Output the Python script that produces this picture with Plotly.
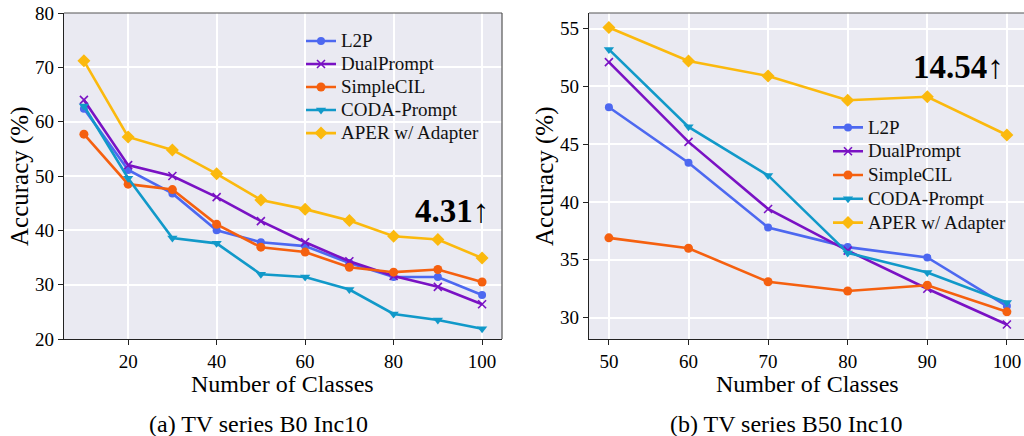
import plotly.graph_objects as go

# ---------------- data ----------------
x_a = [10, 20, 30, 40, 50, 60, 70, 80, 90, 100]
l2p_a = [62.4, 51.1, 46.8, 40.0, 37.8, 37.1, 34.0, 31.4, 31.4, 28.1]
dual_a = [64.0, 52.0, 50.0, 46.1, 41.7, 37.8, 34.3, 31.6, 29.6, 26.4]
simple_a = [57.7, 48.5, 47.5, 41.1, 36.9, 36.0, 33.2, 32.3, 32.8, 30.5]
coda_a = [62.9, 49.6, 38.6, 37.6, 31.9, 31.4, 29.1, 24.6, 23.5, 21.9]
aper_a = [71.2, 57.2, 54.8, 50.4, 45.6, 43.9, 41.8, 38.9, 38.3, 34.9]

x_b = [50, 60, 70, 80, 90, 100]
l2p_b = [48.2, 43.4, 37.8, 36.1, 35.2, 31.0]
dual_b = [52.1, 45.2, 39.4, 35.8, 32.5, 29.4]
simple_b = [36.9, 36.0, 33.1, 32.3, 32.8, 30.5]
coda_b = [53.2, 46.5, 42.3, 35.6, 33.9, 31.3]
aper_b = [55.1, 52.2, 50.9, 48.8, 49.1, 45.8]

names = ["L2P", "DualPrompt", "SimpleCIL", "CODA-Prompt", "APER w/ Adapter"]
colors = ["#4d68f0", "#7a12c4", "#f5600f", "#1199c9", "#fbb90d"]
symbols = ["circle", "x-thin", "circle", "triangle-down", "diamond"]
msizes = [8, 8, 9, 9, 10]

ticks_a_y = [20, 30, 40, 50, 60, 70, 80]
ticks_a_x = [20, 40, 60, 80, 100]
ticks_b_y = [30, 35, 40, 45, 50, 55]
ticks_b_x = [50, 60, 70, 80, 90, 100]

FONT = "Liberation Serif"

fig = go.Figure()

series_a = [l2p_a, dual_a, simple_a, coda_a, aper_a]
series_b = [l2p_b, dual_b, simple_b, coda_b, aper_b]


def marker(i):
    mk = dict(symbol=symbols[i], size=msizes[i], color=colors[i])
    if symbols[i] == "x-thin":
        mk["line"] = dict(width=1.6, color=colors[i])
    return mk


def legend_name(n):
    return '<span style="font-size:19px">' + n + '</span>'


for i in range(5):
    fig.add_trace(go.Scatter(x=x_a, y=series_a[i], mode="lines+markers", name=legend_name(names[i]),
                             line=dict(color=colors[i], width=2.6), marker=marker(i),
                             xaxis="x", yaxis="y", legend="legend"))
for i in range(5):
    fig.add_trace(go.Scatter(x=x_b, y=series_b[i], mode="lines+markers", name=legend_name(names[i]),
                             line=dict(color=colors[i], width=2.6), marker=marker(i),
                             xaxis="x2", yaxis="y2", legend="legend2"))

W, H = 1024, 436
dom_y = [1 - 339 / H, 1 - 13 / H]

axis_common = dict(showgrid=True, gridcolor="white", gridwidth=1.6, zeroline=False,
                   showline=True, linecolor="#222222", linewidth=1.3,
                   ticks="outside", ticklen=5, tickcolor="#222222", tickwidth=1.2,
                   tickfont=dict(family=FONT, size=19, color="black"), automargin=False)

legend_font_a = dict(family=FONT, size=15.4, color="#111111")
legend_font_b = dict(family=FONT, size=16.0, color="#111111")

fig.update_layout(
    width=W, height=H, margin=dict(l=0, r=0, t=0, b=0, autoexpand=False),
    paper_bgcolor="white", plot_bgcolor="#eaeaf2",
    showlegend=True,
    xaxis=dict(domain=[64 / W, 502 / W], range=[5.5, 104.5], tickvals=ticks_a_x,
               anchor="y", **axis_common),
    yaxis=dict(domain=dom_y, range=[20, 80], tickvals=ticks_a_y, anchor="x", **axis_common),
    xaxis2=dict(domain=[589 / W, 1.0], range=[47.5, 102.15], tickvals=ticks_b_x,
                anchor="y2", **axis_common),
    yaxis2=dict(domain=dom_y, range=[28.15, 56.35], tickvals=ticks_b_y, anchor="x2", **axis_common),
    legend=dict(x=301 / W, y=1 - 24.5 / H, xanchor="left", yanchor="top",
                bgcolor="rgba(0,0,0,0)", font=legend_font_a, tracegroupgap=0, itemwidth=30),
    legend2=dict(x=828 / W, y=1 - 110.5 / H, xanchor="left", yanchor="top",
                 bgcolor="rgba(0,0,0,0)", font=legend_font_b, tracegroupgap=0, itemwidth=30),
)

# top / right spines (lighter)
for xr, yr in [("x domain", "y domain"), ("x2 domain", "y2 domain")]:
    fig.add_shape(type="line", xref=xr, yref=yr, x0=0, x1=1, y0=1, y1=1,
                  line=dict(color="#555555", width=1.2))
fig.add_shape(type="line", xref="x domain", yref="y domain", x0=1, x1=1, y0=0, y1=1,
              line=dict(color="#555555", width=1.2))


def txt(text, x, y, size, angle=0):
    return dict(text=text, xref="paper", yref="paper", x=x / W, y=1 - y / H,
                xanchor="center", yanchor="middle", textangle=angle, showarrow=False,
                font=dict(family=FONT, size=size, color="black"))


ann = [
    txt("Accuracy (%)", 20, 176, 25, -90),
    txt("Accuracy (%)", 545, 176, 25, -90),
    txt("Number of Classes", 282, 384, 24),
    txt("Number of Classes", 807, 384, 24),
    txt("(a) TV series B0 Inc10", 258, 424, 24),
    txt("(b) TV series B50 Inc10", 786, 424, 24),
    txt("<b>4.31</b>↑", 452, 211, 33),
    txt("<b>14.54</b>↑", 958, 67, 33),
]
fig.update_layout(annotations=ann)

fig.write_html("out.html")
